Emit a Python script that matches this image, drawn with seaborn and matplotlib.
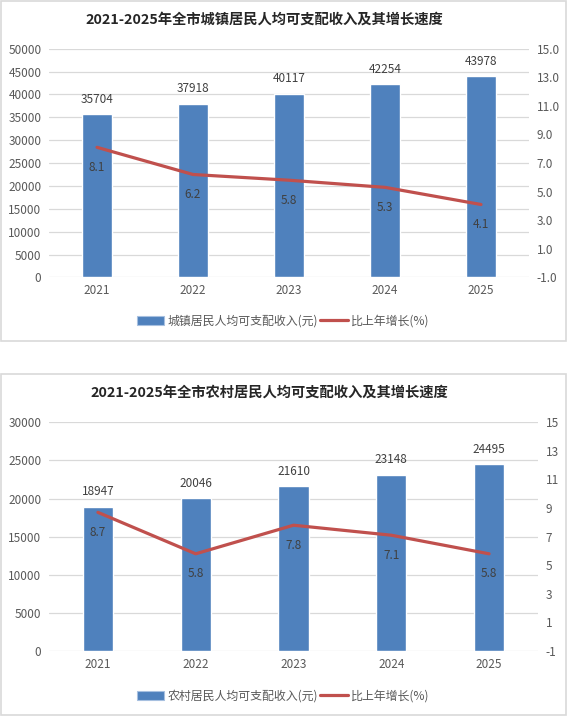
import numpy as np
import pandas as pd
import seaborn as sns
import matplotlib.pyplot as plt
from matplotlib.patches import Rectangle, Patch
from matplotlib.lines import Line2D
from matplotlib.ticker import FormatStrFormatter

years = ['2021', '2022', '2023', '2024', '2025']
urban_income = [35704, 37918, 40117, 42254, 43978]
urban_growth = [8.1, 6.2, 5.8, 5.3, 4.1]
rural_income = [18947, 20046, 21610, 23148, 24495]
rural_growth = [8.7, 5.8, 7.8, 7.1, 5.8]

urban_title = '2021-2025年全市城镇居民人均可支配收入及其增长速度'
rural_title = '2021-2025年全市农村居民人均可支配收入及其增长速度'
urban_bar_name = '城镇居民人均可支配收入(元)'
rural_bar_name = '农村居民人均可支配收入(元)'
line_name = '比上年增长(%)'

BLUE = '#4F81BD'
RED = '#C0504D'
GRID = '#D9D9D9'
TXT = '#595959'

W, H = 568, 718
sns.set_theme(style='white')
plt.rcParams['font.family'] = ['Noto Sans CJK SC', 'DejaVu Sans']

fig = plt.figure(figsize=(W / 100, H / 100), dpi=100)


def rect(x0, y0, x1, y1):
    # pixel box, origin top-left -> figure fraction
    return [x0 / W, 1 - y1 / H, (x1 - x0) / W, (y1 - y0) / H]


def draw(box, plot, title_xy, legend_y, title, income, growth, ymax, bar_name, fmt):
    b = rect(*box)
    fig.add_artist(Rectangle((b[0], b[1]), b[2], b[3], transform=fig.transFigure,
                             fill=False, edgecolor=GRID, lw=1.2))
    ax = fig.add_axes(rect(*plot))
    df = pd.DataFrame({'year': years, 'income': income})
    sns.barplot(data=df, x='year', y='income', color=BLUE, saturation=1,
                width=0.31, ax=ax)
    ax.set_ylim(0, ymax)
    ax.set_yticks(np.arange(0, ymax + 1, 5000))
    ax.set_xlim(-0.5, 4.5)
    ax.grid(axis='y', color=GRID, lw=0.9)
    ax.set_axisbelow(True)
    ax.set_xlabel('')
    ax.set_ylabel('')
    ax.tick_params(axis='y', length=0, pad=5.5, labelsize=8.5, labelcolor=TXT)
    ax.tick_params(axis='x', length=0, pad=5, labelsize=8.5, labelcolor=TXT)
    for i, v in enumerate(income):
        ax.annotate(str(v), xy=(i, v), xytext=(0, 15), textcoords='offset pixels',
                    ha='center', va='center', fontsize=8.5, color='#404040')

    ax2 = ax.twinx()
    sns.lineplot(x=np.arange(len(years)), y=growth, color=RED, lw=2.3, ax=ax2)
    ax2.set_ylim(-1, 15)
    ax2.set_yticks(np.arange(-1, 16, 2))
    ax2.yaxis.set_major_formatter(FormatStrFormatter(fmt))
    ax2.tick_params(axis='y', length=0, pad=5.5, labelsize=8.5, labelcolor=TXT)
    ax2.set_xlim(-0.5, 4.5)
    ax2.grid(False)
    for i, g in enumerate(growth):
        ax2.annotate(f'{g:.1f}', xy=(i, g), xytext=(0, -20), textcoords='offset pixels',
                     ha='center', va='center', fontsize=8.5, color='#404040')
    for a in (ax, ax2):
        for s in a.spines.values():
            s.set_visible(False)

    fig.text(title_xy[0] / W, 1 - title_xy[1] / H, title, ha='center', va='center',
             fontsize=10.3, fontweight='bold', color='#262626')
    handles = [Patch(facecolor=BLUE, edgecolor='#A7C0E0', lw=0.8),
               Line2D([], [], color=RED, lw=2.3)]
    fig.legend(handles, [bar_name, line_name], loc='center',
               bbox_to_anchor=(283 / W, 1 - legend_y / H), ncol=2, frameon=False,
               fontsize=8.6, handlelength=2.3, handletextpad=0.25, columnspacing=0.2,
               labelcolor=TXT)


draw((1, 1, 566, 341), (49, 48.7, 529, 277.4), (264, 20), 321, urban_title,
     urban_income, urban_growth, 50000, urban_bar_name, '%.1f')
draw((1, 374, 566, 715), (49, 422.3, 538, 651), (269, 393), 696, rural_title,
     rural_income, rural_growth, 30000, rural_bar_name, '%d')

fig.savefig('out.png', dpi=100)
